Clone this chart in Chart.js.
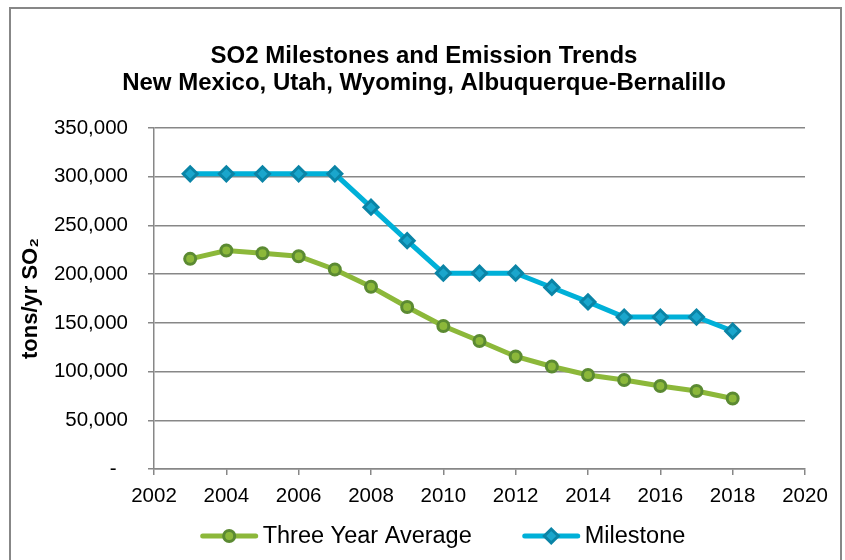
<!DOCTYPE html>
<html>
<head>
<meta charset="utf-8">
<script src="https://cdn.jsdelivr.net/npm/chart.js@4.4.1/dist/chart.umd.min.js"></script>
<style>
  html, body { margin: 0; padding: 0; background: #ffffff; }
  #wrap { width: 845px; height: 560px; }
</style>
</head>
<body>
<div id="wrap"><canvas id="c" width="845" height="560"></canvas></div>
<script>
// ---- data ----
const titleLines = ['SO2 Milestones and Emission Trends', 'New Mexico, Utah, Wyoming, Albuquerque-Bernalillo'];
const yAxisTitle = 'tons/yr SO\u2082';
const years = [2003, 2004, 2005, 2006, 2007, 2008, 2009, 2010, 2011, 2012, 2013, 2014, 2015, 2016, 2017, 2018];
const threeYearAverage = [215700, 224200, 221400, 218400, 204800, 187000, 166300, 146700, 131400, 115500, 105200, 96500, 91400, 85200, 80100, 72300];
const milestone = [303000, 303000, 303000, 303000, 303000, 268700, 234400, 201000, 201000, 201000, 186300, 171500, 156000, 156000, 156000, 141600];
const seriesNames = ['Three Year Average', 'Milestone'];
const xMin = 2002, xMax = 2020, xStep = 2;
const yMin = 0, yMax = 350000, yStep = 50000;

// ---- styles ----
const FONT = '"Liberation Sans", Arial, sans-serif';
const GRID = '#878787';
const green = { line: '#8cb83a', border: '#5b8a32', fill: '#8cb83a' };
const blue = { line: '#00b0d8', border: '#0a84a6', fill: '#1aa6cc' };

function toPoints(xs, ys) { return xs.map((x, i) => ({ x: x, y: ys[i] })); }

const frameAndBg = {
  id: 'frameAndBg',
  beforeDraw(chart) {
    const ctx = chart.ctx;
    ctx.save();
    ctx.fillStyle = '#ffffff';
    ctx.fillRect(0, 0, chart.width, chart.height);
    ctx.strokeStyle = GRID;
    ctx.lineWidth = 2;
    ctx.strokeRect(10, 8, 831, 600);
    ctx.restore();
  }
};

function drawMarker(ctx, style, x, y) {
  ctx.beginPath();
  if (style === 'circle') {
    ctx.arc(x, y, 5.5, 0, Math.PI * 2);
  } else {
    const r = 7;
    ctx.moveTo(x - r, y); ctx.lineTo(x, y - r); ctx.lineTo(x + r, y); ctx.lineTo(x, y + r); ctx.closePath();
  }
  ctx.fill();
  ctx.stroke();
}

const customLegend = {
  id: 'customLegend',
  afterDraw(chart) {
    const ctx = chart.ctx;
    ctx.save();
    ctx.font = '23.5px ' + FONT;
    const lineLen = 57, gap = 5, spacing = 51;
    const items = chart.data.datasets.map(ds => ({ ds, w: ctx.measureText(ds.label).width }));
    let total = 0;
    items.forEach((it, i) => { total += lineLen + gap + it.w + (i ? spacing : 0); });
    let x = 443 - total / 2;
    const y = 536;
    items.forEach((it) => {
      const ds = it.ds;
      ctx.strokeStyle = ds.borderColor;
      ctx.lineWidth = 5;
      ctx.lineCap = 'round';
      ctx.beginPath(); ctx.moveTo(x + 2, y); ctx.lineTo(x + lineLen - 2, y); ctx.stroke();
      ctx.lineCap = 'butt';
      ctx.fillStyle = ds.pointBackgroundColor;
      ctx.strokeStyle = ds.pointBorderColor;
      ctx.lineWidth = ds.pointBorderWidth;
      drawMarker(ctx, ds.pointStyle, x + lineLen / 2, y);
      ctx.fillStyle = '#000000';
      ctx.textBaseline = 'alphabetic';
      ctx.textAlign = 'left';
      ctx.fillText(ds.label, x + lineLen + gap, 543);
      x += lineLen + gap + it.w + spacing;
    });
    ctx.restore();
  }
};

new Chart(document.getElementById('c'), {
  type: 'line',
  data: {
    datasets: [
      {
        label: seriesNames[0],
        data: toPoints(years, threeYearAverage),
        borderColor: green.line,
        borderWidth: 5,
        pointStyle: 'circle',
        pointRadius: 5.5,
        pointHoverRadius: 5.5,
        pointBorderWidth: 3,
        pointBorderColor: green.border,
        pointBackgroundColor: green.fill,
        tension: 0,
        fill: false
      },
      {
        label: seriesNames[1],
        data: toPoints(years, milestone),
        borderColor: blue.line,
        borderWidth: 5,
        pointStyle: 'rectRot',
        pointRadius: 7,
        pointHoverRadius: 7,
        pointBorderWidth: 3,
        pointBorderColor: blue.border,
        pointBackgroundColor: blue.fill,
        tension: 0,
        fill: false
      }
    ]
  },
  options: {
    responsive: false,
    animation: false,
    devicePixelRatio: 1,
    layout: { padding: { left: 10, right: 7, top: 0, bottom: 0 } },
    plugins: {
      legend: { display: false },
      tooltip: { enabled: false },
      title: {
        display: true,
        text: titleLines,
        color: '#000000',
        font: { family: FONT, size: 24, weight: 'bold', lineHeight: 27 / 24 },
        padding: { top: 43, bottom: 31 }
      }
    },
    scales: {
      x: {
        type: 'linear',
        min: xMin,
        max: xMax,
        ticks: {
          stepSize: xStep,
          color: '#000000',
          font: { family: FONT, size: 20.5 },
          padding: 9,
          maxRotation: 0,
          callback: (v) => String(v)
        },
        grid: { drawOnChartArea: false, drawTicks: true, tickLength: 6, color: GRID, lineWidth: 1.5 },
        border: { display: true, color: GRID, width: 1.5 },
        afterFit(s) { s.height = 91; s.paddingRight = 40; }
      },
      y: {
        min: yMin,
        max: yMax,
        ticks: {
          stepSize: yStep,
          color: '#000000',
          font: { family: FONT, size: 20.5 },
          padding: 20,
          callback: (v) => v === 0 ? '-  ' : v.toLocaleString('en-US')
        },
        grid: { drawTicks: true, tickLength: 6, color: GRID, lineWidth: 1.5 },
        border: { display: true, color: GRID, width: 1.5 },
        title: {
          display: true,
          text: yAxisTitle,
          color: '#000000',
          font: { family: FONT, size: 22, weight: 'bold' },
          padding: { top: 8, bottom: 0 }
        },
        afterFit(s) { s.width = 144; }
      }
    }
  },
  plugins: [frameAndBg, customLegend]
});
</script>
</body>
</html>
